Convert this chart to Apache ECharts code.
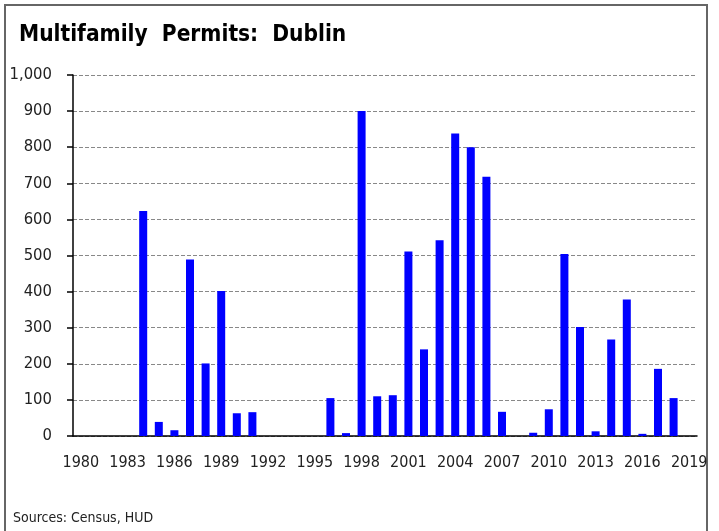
<!DOCTYPE html>
<html>
<head>
<meta charset="utf-8">
<script src="https://cdn.jsdelivr.net/npm/echarts@6/dist/echarts.min.js"></script>
<style>
    html, body { margin: 0; padding: 0; background: #fff; }
    #chart { width: 719px; height: 531px; }
</style>
</head>
<body>
<div id="chart"></div>
<script>
    // years 1980 - 2019
    var years = [];
    for (var y = 1980; y <= 2019; y++) {
        years.push(String(y));
    }

    // multifamily permits
    var permits = [
        0, 0, 0, 0, 623, 39, 16, 489, 201, 402,
        63, 66, 0, 0, 0, 0, 105, 8, 900, 110,
        113, 511, 240, 542, 838, 800, 718, 67, 0, 9,
        74, 504, 302, 13, 267, 378, 6, 186, 105, 0
    ];

    var yTicks = { min: 0, max: 1000, step: 100 };

    var font = '"DejaVu Sans Condensed", "Liberation Sans Narrow", sans-serif';

    var chart = echarts.init(document.getElementById('chart'));
    chart.setOption({
        backgroundColor: '#fff',
        animation: false,
        title: {
            text: 'Multifamily  Permits:  Dublin',
            left: 14,
            top: 19,
            textStyle: {
                fontFamily: font,
                fontWeight: 'bold',
                fontSize: 22.5,
                color: '#000'
            }
        },
        graphic: [
            {
                type: 'rect',
                shape: { x: 5, y: 5, width: 702, height: 560 },
                style: { fill: 'none', stroke: '#666', lineWidth: 2 },
                silent: true
            },
            {
                type: 'text',
                left: 13,
                top: 511,
                style: {
                    text: 'Sources: Census, HUD',
                    fontFamily: font,
                    fontSize: 14,
                    fill: '#222'
                }
            }
        ],
        grid: {
            left: 73,
            right: 22,
            top: 75,
            bottom: 95
        },
        xAxis: {
            type: 'category',
            data: years,
            axisLine: { lineStyle: { color: '#000', width: 1.5 } },
            axisTick: { interval: 0, length: 7, lineStyle: { color: '#000', width: 1.5 } },
            axisLabel: {
                interval: 2,
                margin: 19,
                fontFamily: font,
                fontSize: 16,
                color: '#222'
            },
            splitLine: { show: false }
        },
        yAxis: {
            type: 'value',
            min: yTicks.min,
            max: yTicks.max,
            interval: yTicks.step,
            axisLine: { show: true, lineStyle: { color: '#000', width: 1.5 } },
            axisTick: { show: true, length: 6, lineStyle: { color: '#000', width: 1.5 } },
            axisLabel: {
                margin: 21,
                fontFamily: font,
                fontSize: 16.5,
                color: '#222',
                formatter: function (v) {
                    return v.toLocaleString('en-US');
                }
            },
            splitLine: { lineStyle: { color: '#888', type: [4, 2], width: 1 } }
        },
        series: [
            {
                type: 'bar',
                data: permits,
                barWidth: 8,
                itemStyle: { color: '#0000ff' }
            }
        ]
    });
</script>
</body>
</html>
